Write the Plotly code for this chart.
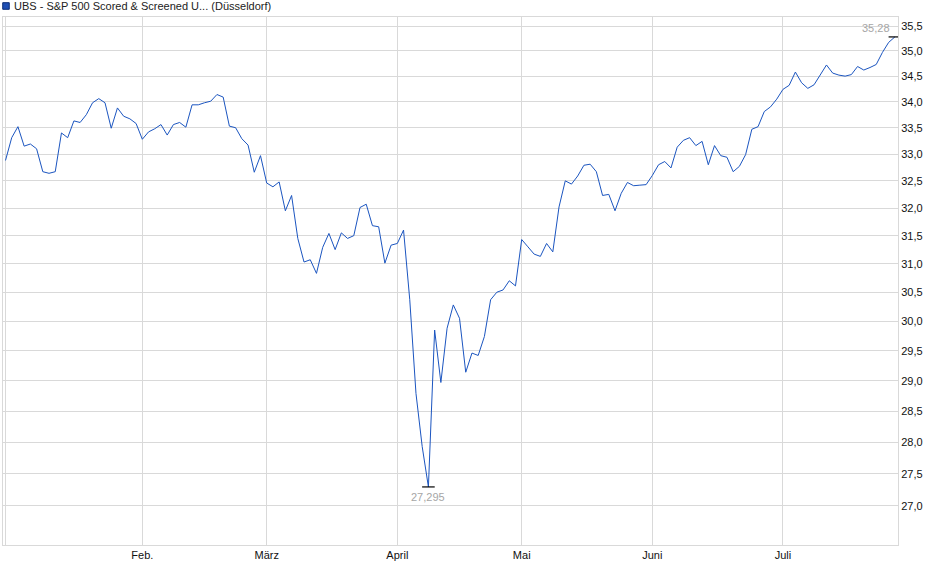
import math

import plotly.graph_objects as go

# Schlusskurse je Handelstag (Jan. bis Juli), Index 0 = erster Handelstag im Januar
kurs = [
    32.88, 33.31, 33.52, 33.15, 33.19, 33.10, 32.67, 32.64, 32.67, 33.40,
    33.31, 33.63, 33.60, 33.75, 33.98, 34.06, 33.98, 33.49, 33.88, 33.72,
    33.67, 33.58, 33.28, 33.42, 33.48, 33.56, 33.36, 33.56, 33.60, 33.51,
    33.94, 33.94, 33.98, 34.01, 34.14, 34.09, 33.53, 33.50, 33.29, 33.17,
    32.66, 32.97, 32.46, 32.39, 32.48, 31.95, 32.23, 31.45, 31.03, 31.07,
    30.83, 31.29, 31.54, 31.25, 31.55, 31.45, 31.50, 32.01, 32.07, 31.68,
    31.66, 31.01, 31.33, 31.36, 31.60, 30.37, 28.79, 27.93, 27.295, 29.85,
    28.97, 29.88, 30.28, 30.05, 29.14, 29.46, 29.42, 29.74, 30.37, 30.50,
    30.54, 30.70, 30.61, 31.43, 31.30, 31.17, 31.13, 31.36, 31.21, 32.02,
    32.50, 32.44, 32.59, 32.79, 32.81, 32.67, 32.23, 32.25, 31.95, 32.27,
    32.47, 32.41, 32.42, 32.43, 32.60, 32.80, 32.86, 32.74, 33.13, 33.26,
    33.31, 33.16, 33.24, 32.80, 33.16, 32.97, 32.94, 32.67, 32.77, 32.99,
    33.47, 33.52, 33.81, 33.90, 34.05, 34.24, 34.32, 34.58, 34.37, 34.26,
    34.33, 34.53, 34.72, 34.56, 34.52, 34.50, 34.53, 34.69, 34.62, 34.67,
    34.73, 34.97, 35.17, 35.28,
]

# erster Handelstag je Monat (Index in kurs)
monat_idx = [0, 22, 42, 63, 83, 104, 125]
monat_namen = ["", "Feb.", "März", "April", "Mai", "Juni", "Juli"]

y_ticks = [27.0, 27.5, 28.0, 28.5, 29.0, 29.5, 30.0, 30.5, 31.0, 31.5,
           32.0, 32.5, 33.0, 33.5, 34.0, 34.5, 35.0, 35.5]

titel = "UBS - S&P 500 Scored & Screened U... (Düsseldorf)"

x = list(range(len(kurs)))
i_min = kurs.index(min(kurs))
i_max = kurs.index(max(kurs))


def de(v):
    return str(v).replace(".", ",")


GRID = "#d9d9d9"
FONT = "Liberation Sans, Arial, sans-serif"

fig = go.Figure()
fig.add_trace(go.Scatter(
    x=x,
    y=kurs,
    mode="lines",
    line={"color": "#1b55c0", "width": 1},
    hoverinfo="skip",
))
# Markierung fuer Tief und Hoch
fig.add_trace(go.Scatter(
    x=[i_min, i_max],
    y=[kurs[i_min], kurs[i_max]],
    mode="markers",
    marker={"symbol": "line-ew", "size": 9, "line": {"color": "#000000", "width": 1.2}},
    hoverinfo="skip",
))

fig.add_annotation(
    x=i_max, y=math.log10(kurs[i_max]), text=de(kurs[i_max]),
    showarrow=False, xanchor="right", yanchor="middle", xshift=-3, yshift=9,
    font={"size": 11, "color": "#a6a6a6", "family": FONT},
)
fig.add_annotation(
    x=i_min, y=math.log10(kurs[i_min]), text=de(kurs[i_min]),
    showarrow=False, xanchor="center", yanchor="middle", yshift=-10,
    font={"size": 11, "color": "#a6a6a6", "family": FONT},
)

# Legende oben links
fig.add_shape(
    type="rect", xref="paper", yref="paper",
    x0=-0.0003, x1=0.0070, y0=1.0146, y1=1.0271,
    fillcolor="#1f4fb4", line={"color": "#0d2d75", "width": 1},
)
fig.add_annotation(
    xref="paper", yref="paper", x=0.0100, y=1.0199, text=titel,
    showarrow=False, xanchor="left", yanchor="middle",
    font={"size": 11, "color": "#222222", "family": FONT},
)

fig.update_layout(
    width=940,
    height=579,
    margin={"l": 3, "r": 42, "t": 17, "b": 34},
    paper_bgcolor="#ffffff",
    plot_bgcolor="#ffffff",
    showlegend=False,
    separators=",.",
    font={"family": FONT, "size": 11, "color": "#111111"},
    xaxis={
        "range": [-0.4, len(kurs) - 0.5],
        "tickmode": "array",
        "tickvals": monat_idx,
        "ticktext": monat_namen,
        "showgrid": True,
        "gridcolor": GRID,
        "gridwidth": 1,
        "zeroline": False,
        "showline": True,
        "linecolor": GRID,
        "linewidth": 1,
        "mirror": True,
        "ticks": "",
        "tickfont": {"size": 11, "color": "#111111"},
    },
    yaxis={
        "type": "log",
        "side": "right",
        "range": [math.log10(26.406), math.log10(35.683)],
        "tickmode": "array",
        "tickvals": y_ticks,
        "ticktext": [f"{v:.1f}".replace(".", ",") for v in y_ticks],
        "showgrid": True,
        "gridcolor": GRID,
        "gridwidth": 1,
        "zeroline": False,
        "showline": True,
        "linecolor": GRID,
        "linewidth": 1,
        "mirror": True,
        "ticks": "",
        "tickfont": {"size": 11, "color": "#111111"},
    },
)

# Seitenrand des Browsers entfernen, damit die Grafik bei 0,0 beginnt
fig.write_html(
    "out.html",
    config={"displayModeBar": False},
    post_script="document.body.style.margin='0';",
)
